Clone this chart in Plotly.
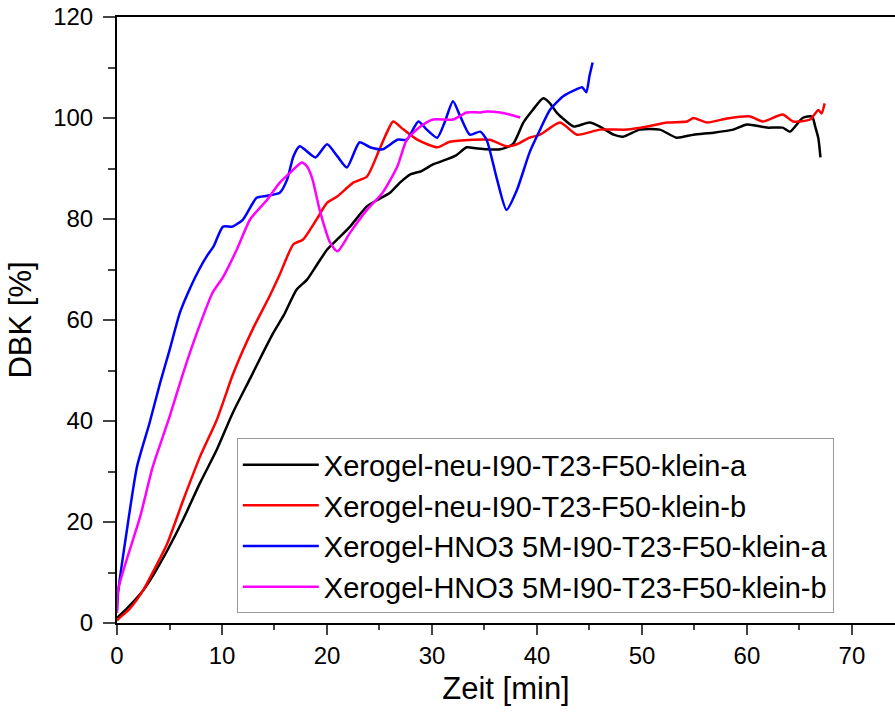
import plotly.graph_objects as go

# --- data ---
names = [
    "Xerogel-neu-I90-T23-F50-klein-a",
    "Xerogel-neu-I90-T23-F50-klein-b",
    "Xerogel-HNO3 5M-I90-T23-F50-klein-a",
    "Xerogel-HNO3 5M-I90-T23-F50-klein-b",
]
colors = ["#000000", "#FF0000", "#0000FF", "#FF00FF"]

x_neu_a = [0, 1.0, 2.5, 3.6, 4.8, 6.3, 7.9, 9.5, 11.0, 12.7, 13.9, 14.9, 15.9, 17.1, 18.1, 19.0, 20.0,
           21.0, 22.2, 23.8, 25.0, 26.0, 27.0, 27.9, 29.0, 30.1, 31.4, 32.3, 33.3, 34.2, 35.2, 36.5,
           37.7, 38.7, 39.6, 40.6, 41.2, 41.9, 42.7, 43.5, 45.0, 46.0, 47.3, 48.2, 49.8, 51.7, 53.3,
           54.9, 56.8, 58.7, 60.0, 61.9, 63.4, 64.1, 65.3, 66.2, 66.5, 66.8, 67.0]
y_neu_a = [1.0, 3.0, 6.5, 10.0, 14.4, 20.5, 27.7, 34.3, 41.5, 48.5, 53.5, 57.5, 61.0, 66.0, 68.0, 70.8, 73.9,
           76.0, 78.5, 82.5, 84.0, 85.2, 87.3, 88.8, 89.5, 90.8, 91.8, 92.6, 94.2, 94.0, 93.8, 93.8,
           94.8, 99.1, 101.6, 103.9, 103.0, 101.0, 99.5, 98.3, 99.1, 98.3, 96.7, 96.3, 97.7, 97.7, 96.1,
           96.7, 97.1, 97.7, 98.7, 98.1, 98.1, 97.3, 100.0, 100.3, 98.3, 96.0, 92.2]

x_neu_b = [0, 0.3, 1.2, 2.5, 3.6, 4.8, 6.3, 7.9, 9.5, 11.0, 12.0, 13.0, 14.6, 15.5, 16.8, 17.7, 19.0, 20.0,
           21.0, 22.5, 23.8, 25.0, 25.7, 26.3, 27.3, 28.6, 30.5, 31.7, 33.9, 35.5, 37.1, 38.1, 39.3,
           40.3, 42.2, 43.8, 46.0, 48.6, 50.5, 52.4, 54.3, 54.9, 56.2, 58.1, 60.3, 61.5, 63.4, 64.4,
           66.0, 66.8, 67.1, 67.4]
y_neu_b = [0.5, 1.1, 2.8, 6.5, 10.8, 15.8, 24.3, 32.9, 40.2, 49.0, 54.0, 58.5, 65.0, 69.0, 75.0, 75.9, 79.9, 83.2,
           84.5, 87.2, 88.4, 93.8, 97.1, 99.3, 97.7, 95.7, 94.2, 95.3, 95.7, 95.7, 94.4, 94.8, 96.1,
           96.7, 99.1, 96.7, 97.7, 97.7, 98.3, 99.1, 99.3, 100.0, 99.1, 99.9, 100.3, 99.3, 100.7, 99.3,
           99.7, 101.6, 100.9, 102.9]

x_hno3_a = [0, 0.1, 0.9, 1.9, 3.1, 4.1, 5.0, 6.0, 7.0, 7.9, 8.6, 9.2, 10.1, 11.0, 12.0, 13.3, 14.3,
            15.5, 16.2, 16.8, 17.4, 18.9, 20.0, 21.0, 21.9, 23.1, 24.1, 25.3, 26.7, 27.6, 28.7, 29.5,
            30.5, 31.2, 32.0, 32.7, 33.6, 34.6, 35.2, 36.2, 37.1, 38.1, 39.3, 40.3, 41.2, 42.5, 43.8,
            44.3, 44.7, 45.0, 45.3]
y_hno3_a = [2.5, 5.9, 17.8, 30.9, 39.6, 47.5, 54.0, 61.5, 66.5, 70.3, 72.8, 74.6, 78.5, 78.5, 79.9, 84.2, 84.6,
            85.2, 87.8, 92.4, 94.4, 92.2, 94.8, 92.4, 90.2, 95.2, 94.2, 93.8, 95.7, 95.7, 99.3, 97.7,
            96.1, 99.1, 103.3, 100.3, 96.7, 97.3, 95.7, 87.8, 81.8, 85.8, 93.2, 97.7, 101.5, 104.3, 105.7,
            106.1, 105.1, 108.3, 111.0]

x_hno3_b = [0, 0.1, 0.9, 2.2, 3.4, 5.0, 6.3, 7.6, 9.1, 10.1, 11.4, 12.7, 14.3, 15.5, 16.5, 17.6, 18.1,
            18.6, 19.3, 20.3, 21.0, 22.2, 23.8, 25.3, 26.7, 27.6, 28.9, 30.1, 32.0, 33.3, 34.6, 35.2,
            36.5, 37.4, 38.4]
y_hno3_b = [2.0, 6.5, 12.4, 21.0, 30.9, 40.8, 49.5, 57.4, 65.4, 68.5, 73.9, 80.0, 83.8, 87.2, 89.2, 91.2, 90.4,
            88.0, 81.8, 75.3, 73.6, 77.3, 81.8, 85.2, 90.4, 95.7, 98.3, 99.7, 99.7, 101.1, 101.1, 101.3,
            101.1, 100.7, 100.1]

xs = [x_neu_a, x_neu_b, x_hno3_a, x_hno3_b]
ys = [y_neu_a, y_neu_b, y_hno3_a, y_hno3_b]

x_ticks = [0, 10, 20, 30, 40, 50, 60, 70]
y_ticks = [0, 20, 40, 60, 80, 100, 120]

fig = go.Figure()
for i, (name, c, x, y) in enumerate(zip(names, colors, xs, ys)):
    fig.add_trace(go.Scatter(x=x, y=y, mode="lines", name=name, legendgroup=str(i),
                             line=dict(color=c, width=2.5, shape="spline", smoothing=0.6)))

font = "Arial, Liberation Sans, sans-serif"
fig.update_layout(
    width=895, height=716,
    margin=dict(l=117, r=0, t=17, b=93),
    paper_bgcolor="white", plot_bgcolor="white",
    font=dict(family=font, color="black"),
    showlegend=True,
    legend=dict(x=0.154, y=0.016, xanchor="left", yanchor="bottom",
                bgcolor="white", bordercolor="#9a9a9a", borderwidth=1,
                font=dict(size=29, family=font, color="black"),
                tracegroupgap=0, itemwidth=76),
    xaxis=dict(range=[0, 74.1], tickvals=x_ticks, ticks="outside", ticklen=10, tickwidth=2,
               showline=True, linecolor="black", linewidth=2, mirror=True,
               showgrid=False, zeroline=False,
               minor=dict(dtick=5, tick0=0, ticks="outside", ticklen=5, tickwidth=2, showgrid=False),
               tickfont=dict(size=24, family=font, color="black"),
               title=dict(text="Zeit [min]", font=dict(size=31, family=font, color="black"), standoff=10)),
    yaxis=dict(range=[0, 120], tickvals=y_ticks, ticks="outside", ticklen=12, tickwidth=2,
               showline=True, linecolor="black", linewidth=2,
               showgrid=False, zeroline=False, ticklabelstandoff=5,
               minor=dict(dtick=10, tick0=0, ticks="outside", ticklen=7, tickwidth=2, showgrid=False),
               tickfont=dict(size=24, family=font, color="black"),
               title=dict(text="DBK [%]", font=dict(size=31, family=font, color="black"), standoff=12)),
)

fig.write_html("out.html")
